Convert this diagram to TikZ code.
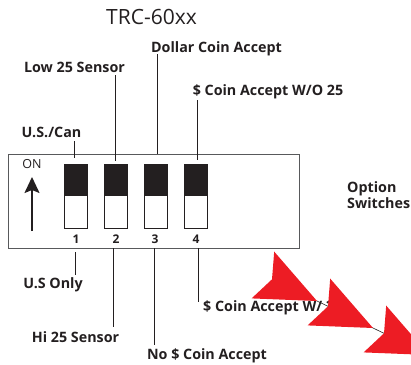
\documentclass[tikz,border=0pt]{standalone}
\usepackage{fontspec}
\setmainfont{Open Sans}
\usetikzlibrary{arrows.meta}
\definecolor{ink}{HTML}{231F20}
\definecolor{boxgray}{HTML}{58595B}
\definecolor{arrowred}{HTML}{ED1C24}
\begin{document}
\begin{tikzpicture}[x=1pt,y=-1pt,
  lbl/.style={font=\bfseries\fontsize{14.3}{14}\selectfont, text=ink, inner sep=0pt, anchor=base},
  num/.style={font=\bfseries\fontsize{12}{12}\selectfont, text=ink, inner sep=0pt, anchor=base},
  leader/.style={draw=ink, line width=0.8pt},
  switchbox/.style={draw=ink, line width=0.6pt, fill=white, minimum width=23pt, minimum height=64pt, inner sep=0pt,
    path picture={\fill[ink] (path picture bounding box.north west) rectangle (path picture bounding box.east);}},
  redhead/.style={fill=arrowred}
]
\useasboundingbox (0,0) rectangle (411,364);
% title
\node[font=\fontsize{21}{24}\selectfont, text=ink, inner sep=0pt, anchor=base] (title) at (151.5,24.5) {TRC-60xx};
% main box
\node[draw=boxgray, line width=0.8pt, minimum width=291pt, minimum height=94pt, inner sep=0pt] (board) at (153.5,201) {};
% switches
\node[switchbox] (sw1) at (75.5,196) {};
\node[switchbox] (sw2) at (115.5,196) {};
\node[switchbox] (sw3) at (155.5,196) {};
\node[switchbox] (sw4) at (195.5,196) {};
% numbers
\node[num] (n1) at (76,243) {1};
\node[num] (n2) at (116,243) {2};
\node[num] (n3) at (155,243) {3};
\node[num] (n4) at (196,243) {4};
% ON arrow
\node[font=\fontsize{12.5}{13}\selectfont, text=ink, inner sep=0pt, anchor=base] (on) at (32,168.5) {ON};
\coordinate (arrtail) at (32,231);
\coordinate (arrtip) at (32,177);
\draw[ink, line width=1.6pt, -{Stealth[length=16pt,width=15pt,inset=3pt]}] (arrtail) -- (arrtip);
% top labels
\node[lbl] (dollar) at (216.5,52) {Dollar Coin Accept};
\node[lbl] (low25) at (74.5,72) {Low 25 Sensor};
\node[lbl] (woq) at (268,95.5) {\$ Coin Accept W/O 25};
\node[lbl] (uscan) at (51.5,137) {U.S./Can};
% bottom labels
\node[lbl] (usonly) at (53,288) {U.S Only};
\node[lbl] (hi25) at (75.5,342) {Hi 25 Sensor};
\node[lbl] (nocoin) at (207,359) {No \$ Coin Accept};
\node[lbl, anchor=base west] (w25) at (203,311) {\$ Coin Accept W/ 25};
\node[font=\bfseries\fontsize{14.3}{14}\selectfont, text=ink, inner sep=0pt, anchor=west, align=left] (opt) at (347,195) {Option\\Switches};
% leader lines
\coordinate (a1) at (74,141);  \coordinate (b1) at (74,158);
\coordinate (a2) at (115,75);  \coordinate (b2) at (115,161);
\coordinate (a3) at (157,54);  \coordinate (b3) at (157,154);
\coordinate (a4) at (197,100); \coordinate (b4) at (197,160);
\draw[leader] (a1) -- (b1);
\draw[leader] (a2) -- (b2);
\draw[leader] (a3) -- (b3);
\draw[leader] (a4) -- (b4);
\coordinate (c1) at (75,252);  \coordinate (d1) at (75,275);
\coordinate (c2) at (113,248); \coordinate (d2) at (113,327);
\coordinate (c3) at (154,248); \coordinate (d3) at (154,345);
\coordinate (c4) at (198,248); \coordinate (d4) at (198,302);
\draw[leader] (c1) -- (d1);
\draw[leader] (c2) -- (d2);
\draw[leader] (c3) -- (d3);
\draw[leader] (c4) -- (d4);
% red arrow chain
\coordinate (t1) at (317,301);
\coordinate (t2) at (373,328);
\coordinate (t3) at (429,355);
\draw[ink, line width=0.6pt] (t1) -- (t3);
\foreach \t in {t1,t2,t3}{
  \fill[redhead] (\t) -- ([shift={(-42.8,-49.4)}]\t) -- ([shift={(-45,-21.7)}]\t) -- ([shift={(-65.4,-2.6)}]\t) -- cycle;
}
\end{tikzpicture}
\end{document}
